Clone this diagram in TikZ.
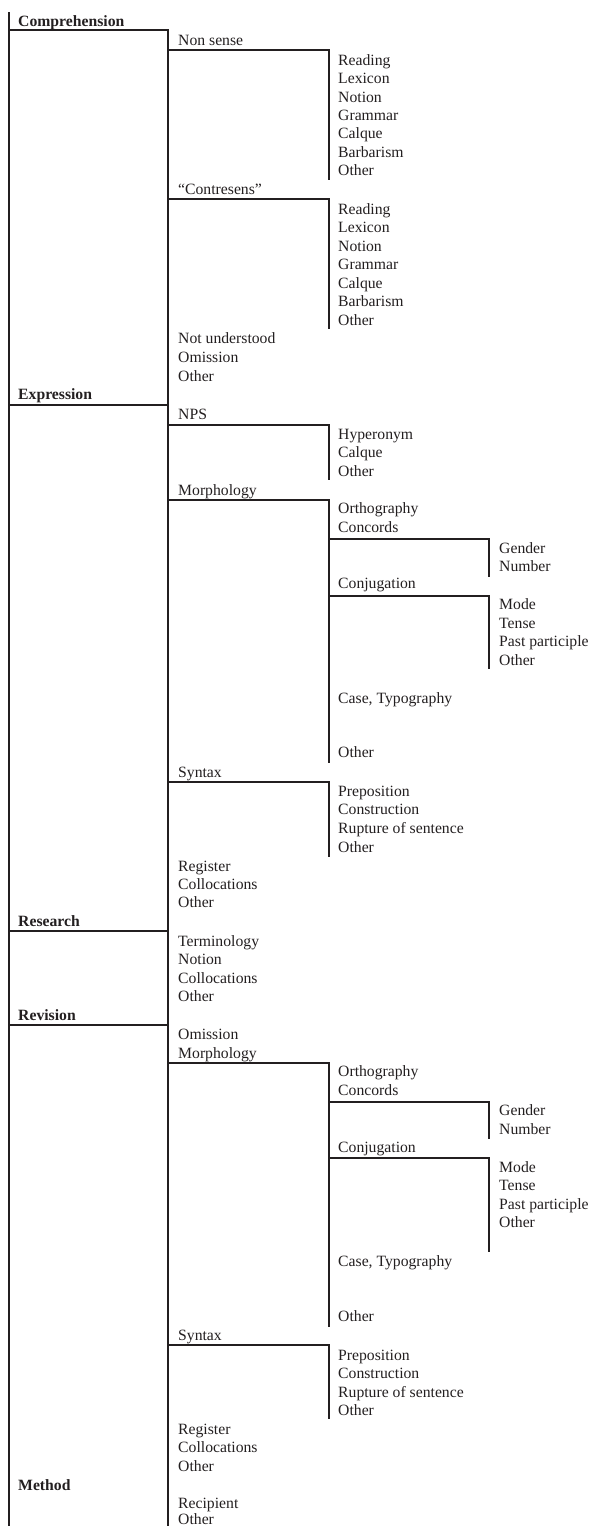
\documentclass[tikz,border=0pt]{standalone}
\usepackage{fontspec}
\setmainfont{Liberation Serif}
\usepackage{tikz}

\definecolor{ink}{RGB}{35,31,32}

\begin{document}
\begin{tikzpicture}[%
    x=1pt, y=-1pt,
    topic/.style={%
        anchor=base west,
        inner sep=0pt,
        text=ink,
        font=\fontsize{15.7}{18.4}\selectfont\bfseries
    },
    item/.style={%
        anchor=base west,
        inner sep=0pt,
        text=ink,
        font=\fontsize{15.7}{18.4}\selectfont
    },
    rule/.style={%
        draw=ink,
        line width=2pt
    }
]
\useasboundingbox (0,0) rectangle (592,1526);

% Main categories
    \node[topic] (comprehension) at (18,26) {Comprehension};
    \node[topic] (expression) at (18,399) {Expression};
    \node[topic] (research) at (18,926) {Research};
    \node[topic] (revision) at (18,1020) {Revision};
    \node[topic] (method) at (18,1490) {Method};

% Comprehension
    \node[item] (nonsense) at (178,45) {Non sense};
    \node[item] (ns1) at (338,65) {Reading};
    \node[item] (ns2) at (338,83) {Lexicon};
    \node[item] (ns3) at (338,102) {Notion};
    \node[item] (ns4) at (338,120) {Grammar};
    \node[item] (ns5) at (338,138) {Calque};
    \node[item] (ns6) at (338,157) {Barbarism};
    \node[item] (ns7) at (338,175) {Other};
    \node[item] (contresens) at (178,194) {“Contresens”};
    \node[item] (cs1) at (338,214) {Reading};
    \node[item] (cs2) at (338,232) {Lexicon};
    \node[item] (cs3) at (338,251) {Notion};
    \node[item] (cs4) at (338,269) {Grammar};
    \node[item] (cs5) at (338,288) {Calque};
    \node[item] (cs6) at (338,306) {Barbarism};
    \node[item] (cs7) at (338,325) {Other};
    \node[item] (notunderstood) at (178,343) {Not understood};
    \node[item] (compomission) at (178,362) {Omission};
    \node[item] (compother) at (178,381) {Other};

% Expression
    \node[item] (nps) at (178,419) {NPS};
    \node[item] (nps1) at (338,439) {Hyperonym};
    \node[item] (nps2) at (338,457) {Calque};
    \node[item] (nps3) at (338,476) {Other};
    \node[item] (exmorph) at (178,495) {Morphology};
    \node[item] (exortho) at (338,513) {Orthography};
    \node[item] (exconcords) at (338,532) {Concords};
    \node[item] (exgender) at (499,553) {Gender};
    \node[item] (exnumber) at (499,571) {Number};
    \node[item] (exconj) at (338,588) {Conjugation};
    \node[item] (exmode) at (499,609) {Mode};
    \node[item] (extense) at (499,628) {Tense};
    \node[item] (expast) at (499,646) {Past participle};
    \node[item] (exconjother) at (499,665) {Other};
    \node[item] (excase) at (338,703) {Case, Typography};
    \node[item] (exmorphother) at (338,757) {Other};
    \node[item] (exsyntax) at (178,777) {Syntax};
    \node[item] (exsyn1) at (338,796) {Preposition};
    \node[item] (exsyn2) at (338,814) {Construction};
    \node[item] (exsyn3) at (338,833) {Rupture of sentence};
    \node[item] (exsyn4) at (338,852) {Other};
    \node[item] (exregister) at (178,871) {Register};
    \node[item] (excolloc) at (178,889) {Collocations};
    \node[item] (exother) at (178,907) {Other};

% Research
    \node[item] (terminology) at (178,946) {Terminology};
    \node[item] (resnotion) at (178,964) {Notion};
    \node[item] (rescolloc) at (178,983) {Collocations};
    \node[item] (resother) at (178,1001) {Other};

% Revision
    \node[item] (revomission) at (178,1039) {Omission};
    \node[item] (revmorph) at (178,1058) {Morphology};
    \node[item] (revortho) at (338,1076) {Orthography};
    \node[item] (revconcords) at (338,1095) {Concords};
    \node[item] (revgender) at (499,1115) {Gender};
    \node[item] (revnumber) at (499,1134) {Number};
    \node[item] (revconj) at (338,1152) {Conjugation};
    \node[item] (revmode) at (499,1172) {Mode};
    \node[item] (revtense) at (499,1190) {Tense};
    \node[item] (revpast) at (499,1209) {Past participle};
    \node[item] (revconjother) at (499,1227) {Other};
    \node[item] (revcase) at (338,1266) {Case, Typography};
    \node[item] (revmorphother) at (338,1321) {Other};
    \node[item] (revsyntax) at (178,1340) {Syntax};
    \node[item] (revsyn1) at (338,1360) {Preposition};
    \node[item] (revsyn2) at (338,1378) {Construction};
    \node[item] (revsyn3) at (338,1397) {Rupture of sentence};
    \node[item] (revsyn4) at (338,1415) {Other};
    \node[item] (revregister) at (178,1434) {Register};
    \node[item] (revcolloc) at (178,1452) {Collocations};
    \node[item] (revother) at (178,1471) {Other};

% Method
    \node[item] (recipient) at (178,1508) {Recipient};
    \node[item] (methother) at (178,1524.5) {Other};

% Lines
\draw[rule] (9,12) -- (9,1526);
\draw[rule] (9,30) -| (168,1526);
\draw[rule] (9,405) -- (168,405);
\draw[rule] (9,931) -- (168,931);
\draw[rule] (9,1025) -- (168,1025);

\draw[rule] (168,50) -| (329,180);
\draw[rule] (168,199) -| (329,329);
\draw[rule] (168,425) -| (329,480);
\draw[rule] (168,500) -| (329,763);
\draw[rule] (168,782) -| (329,857);
\draw[rule] (168,1063) -| (329,1327);
\draw[rule] (168,1345) -| (329,1419);

\draw[rule] (329,539) -| (489,577);
\draw[rule] (329,596) -| (489,669);
\draw[rule] (329,1102) -| (489,1139);
\draw[rule] (329,1158) -| (489,1252);

\end{tikzpicture}
\end{document}
